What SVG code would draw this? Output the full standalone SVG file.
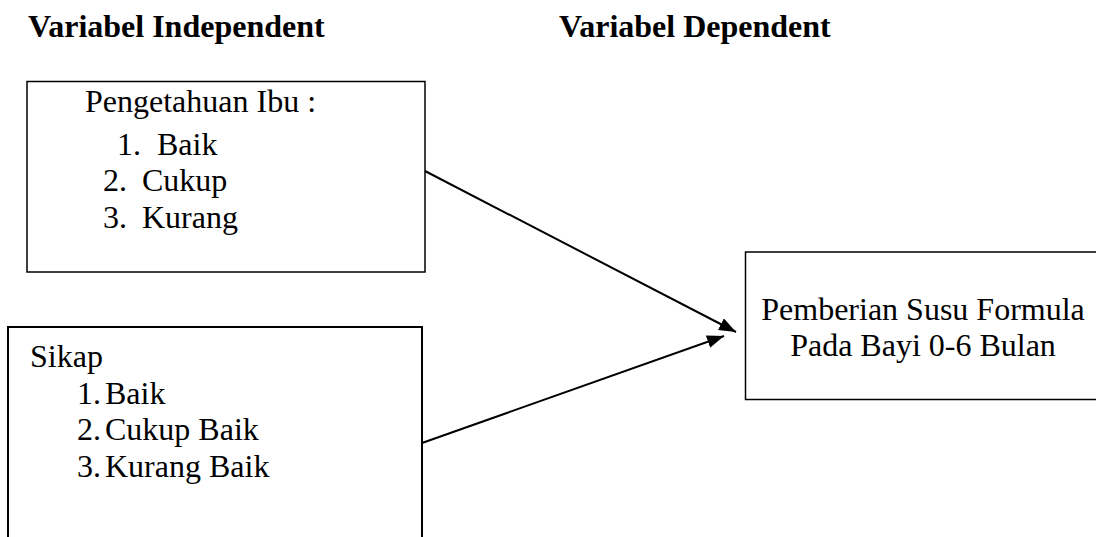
<svg xmlns="http://www.w3.org/2000/svg" width="1096" height="537" viewBox="0 0 1096 537">
<style>
  .t { font-family: "Liberation Serif", "Times New Roman", serif; font-size: 32px; fill: #000; }
  .h { font-family: "Liberation Serif", "Times New Roman", serif; font-size: 32px; font-weight: bold; fill: #000; }
  .box { fill: none; stroke: #000; }
  .conn { stroke: #000; stroke-width: 2; fill: none; }
</style>
<defs>
  <marker id="arrow" markerUnits="userSpaceOnUse" markerWidth="18" markerHeight="14" refX="17" refY="6.5" orient="auto">
    <path d="M0,0 L17,6.5 L0,13 z" fill="#000"/>
  </marker>
</defs>
<rect width="1096" height="537" fill="#fff"/>
<g id="heading-independent"><text class="h" x="28" y="37">Variabel Independent</text></g>
<g id="heading-dependent"><text class="h" x="559" y="37">Variabel Dependent</text></g>
<g id="node-pengetahuan">
  <rect class="box" x="27" y="81.5" width="398" height="190.5" stroke-width="1.5"/>
  <text class="t" x="85" y="112">Pengetahuan Ibu :</text>
  <text class="t" x="117" y="155">1.</text><text class="t" x="157" y="155">Baik</text>
  <text class="t" x="103" y="191">2.</text><text class="t" x="142" y="191">Cukup</text>
  <text class="t" x="103" y="228">3.</text><text class="t" x="142" y="228">Kurang</text>
</g>
<g id="node-sikap">
  <path class="box" d="M8,540 L8,327 L422,327 L422,540" stroke-width="2"/>
  <text class="t" x="30" y="367">Sikap</text>
  <text class="t" x="77" y="404">1.</text><text class="t" x="105" y="404">Baik</text>
  <text class="t" x="77" y="440">2.</text><text class="t" x="105" y="440">Cukup Baik</text>
  <text class="t" x="77" y="477">3.</text><text class="t" x="105" y="477">Kurang Baik</text>
</g>
<g id="node-pemberian">
  <rect class="box" x="745.5" y="252" width="360" height="147.5" stroke="#333" stroke-width="1.5"/>
  <text class="t" x="923" y="320" text-anchor="middle">Pemberian Susu Formula</text>
  <text class="t" x="923" y="356" text-anchor="middle">Pada Bayi 0-6 Bulan</text>
</g>
<g id="connectors">
  <line class="conn" x1="425" y1="171" x2="736" y2="332" marker-end="url(#arrow)"/>
  <line class="conn" x1="422" y1="443" x2="724" y2="336" marker-end="url(#arrow)"/>
</g>
</svg>
